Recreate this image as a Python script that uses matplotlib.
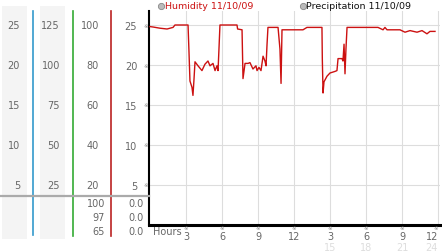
import matplotlib
matplotlib.use("Agg")
import matplotlib.pyplot as plt
from matplotlib.lines import Line2D
from matplotlib.patches import Rectangle
from matplotlib.transforms import blended_transform_factory

plt.rcParams['font.family'] = ['DejaVu Sans', 'Noto Sans CJK SC']

# ---- data ----
hours = [0.0, 0.25, 0.83, 1.42, 1.92, 2.08, 3.17, 3.25, 3.33, 3.5, 3.58, 3.67, 3.75,
         4.0, 4.33, 4.58, 4.83, 5.0, 5.25, 5.42, 5.58, 5.67, 5.75, 5.83, 7.25, 7.3,
         7.67, 7.75, 7.92, 8.17, 8.33, 8.58, 8.83, 8.92, 9.08, 9.25, 9.42, 9.58, 9.67,
         9.75, 9.83, 10.67, 10.83, 10.92, 11.0, 12.75, 13.08, 14.33, 14.36, 14.42,
         14.5, 14.75, 15.0, 15.42, 15.58, 15.67, 16.0, 16.08, 16.17, 16.25, 16.33,
         16.42, 19.0, 19.42, 19.58, 19.75, 20.83, 21.25, 21.67, 22.25, 22.67, 23.08,
         23.33, 23.75]
humidity = [24.8, 24.75, 24.6, 24.5, 24.7, 25.0, 25.0, 21.6, 18.0, 17.2, 16.2, 18.3, 20.4,
            19.9, 19.3, 20.1, 20.5, 19.9, 20.2, 19.3, 19.9, 19.3, 22.1, 25.0, 25.0, 24.5,
            24.4, 18.3, 20.2, 20.2, 20.3, 19.5, 19.9, 19.3, 19.7, 19.3, 21.1, 20.5, 19.9,
            22.5, 24.7, 24.7, 22.0, 17.7, 24.4, 24.4, 24.7, 24.7, 20.75, 16.5,
            17.9, 18.6, 19.0, 19.2, 19.3, 20.8, 20.8, 20.5, 22.6, 18.9, 22.0,
            24.7, 24.7, 24.4, 24.7, 24.4, 24.4, 24.1, 24.3, 24.1, 24.3, 23.9,
            24.2, 24.2]

y_ticks = [25, 20, 15, 10, 5]
col1_labels = ['25', '20', '15', '10', '5']
col2_labels = ['125', '100', '75', '50', '25']
col3_labels = ['100', '80', '60', '40', '20']
col4_labels = ['25', '20', '15', '10', '5']
current_col3 = ['100', '97', '65']
current_col4 = ['0.0', '0.0', '0.0']
x_ticks = [3, 6, 9, 12, 15, 18, 21, 24]
x_labels = ['3', '6', '9', '12', '3', '6', '9', '12']
x_labels2 = {15: '15', 18: '18', 21: '21', 24: '24'}
legend_items = ['Humidity 11/10/09', 'Precipitation 11/10/09']

W, H = 442, 253
fig = plt.figure(figsize=(W / 100, H / 100), dpi=100)
fig.patch.set_facecolor('white')


def fx(x):
    return x / W


def fy(y):
    return 1 - y / H


ax = fig.add_axes([fx(149), fy(226), fx(440) - fx(149), fy(12) - fy(226)])
ax.set_xlim(-1 / 12, (440 - 150) / 12)
ax.set_ylim(0, 214 / 8)
ax.plot(hours, humidity, color='#cc1111', lw=1.0, zorder=3)

for s in ['top', 'right']:
    ax.spines[s].set_visible(False)
ax.spines['left'].set_color('black')
ax.spines['left'].set_linewidth(1.5)
ax.spines['bottom'].set_color('black')
ax.spines['bottom'].set_linewidth(2.2)

ax.set_yticks(y_ticks)
ax.set_yticklabels(col4_labels)
ax.tick_params(axis='y', length=0, pad=8.5, labelsize=7, labelcolor='#666666')
ax.set_xticks(x_ticks)
ax.set_xticks(x_ticks)
ax.set_xticklabels([])
ax.tick_params(axis='x', length=0)
ax.grid(True, color='#dddddd', lw=0.8)
ax.set_axisbelow(True)

# x labels and reference marks
trx = blended_transform_factory(ax.transData, fig.transFigure)
last = x_ticks[-1]
for t, lab in zip(x_ticks, x_labels):
    ha = 'right' if t == last else 'center'
    xt = t + 0.02 if t == last else t
    ax.text(xt, fy(237.5), lab, transform=trx, fontsize=7, color='#666666',
            ha=ha, va='center', clip_on=False)
    ax.text(t - (0.2 if t == last else 0), fy(229), '※', transform=trx, fontsize=4,
            color='#888888', ha='center', va='center', clip_on=False)
for t, lab in x_labels2.items():
    ha = 'right' if t == last else 'center'
    ax.text(t, fy(248), lab, transform=trx, fontsize=7, color='#dddddd',
            ha=ha, va='center', clip_on=False)
fig.text(fx(153), fy(232), 'Hours', fontsize=7, color='#666666', ha='left', va='center')

try_ = blended_transform_factory(fig.transFigure, ax.transData)
for v in y_ticks:
    ax.text(fx(146), v, '※', transform=try_, fontsize=4, color='#888888',
            ha='center', va='center', clip_on=False)

# left columns
fig.patches.append(Rectangle((fx(2), fy(240)), fx(27) - fx(2), fy(7) - fy(240),
                             transform=fig.transFigure, facecolor='#f4f4f4', edgecolor='none', zorder=0))
fig.patches.append(Rectangle((fx(40), fy(240)), fx(65) - fx(40), fy(7) - fy(240),
                             transform=fig.transFigure, facecolor='#f4f4f4', edgecolor='none', zorder=0))
fig.add_artist(Line2D([fx(33), fx(33)], [fy(12), fy(236)], color='#3399cc', lw=1.2))
fig.add_artist(Line2D([fx(72.5), fx(72.5)], [fy(12), fy(237)], color='#33aa33', lw=1.2))
fig.add_artist(Line2D([fx(111), fx(111)], [fy(12), fy(237)], color='#bb2222', lw=1.2))
fig.add_artist(Line2D([fx(0), fx(149)], [fy(196.5), fy(196.5)], color='#aaaaaa', lw=1.6))

for v, a, b, c in zip(y_ticks, col1_labels, col2_labels, col3_labels):
    fig.text(fx(20), v, a, transform=try_, fontsize=7, color='#666666', ha='right', va='center')
    fig.text(fx(60), v, b, transform=try_, fontsize=7, color='#666666', ha='right', va='center')
    fig.text(fx(99), v, c, transform=try_, fontsize=7, color='#666666', ha='right', va='center')

for yy, a, b in zip([204, 218, 232], current_col3, current_col4):
    fig.text(fx(105), fy(yy), a, fontsize=7, color='#666666', ha='right', va='center')
    fig.text(fx(144), fy(yy), b, fontsize=7, color='#666666', ha='right', va='center')

# legend
fig.add_artist(Line2D([fx(160.5)], [fy(6.5)], marker='o', markersize=4.5,
                      markerfacecolor='#bbbbbb', markeredgecolor='#888888', mew=0.6, lw=0))
fig.text(fx(165), fy(6.5), legend_items[0], fontsize=6.8, color='#cc1111', ha='left', va='center')
fig.add_artist(Line2D([fx(302.5)], [fy(6.5)], marker='o', markersize=4.5,
                      markerfacecolor='#bbbbbb', markeredgecolor='#888888', mew=0.6, lw=0))
fig.text(fx(306), fy(6.5), legend_items[1], fontsize=6.8, color='#111111', ha='left', va='center')

fig.savefig('out.png', dpi=100)
